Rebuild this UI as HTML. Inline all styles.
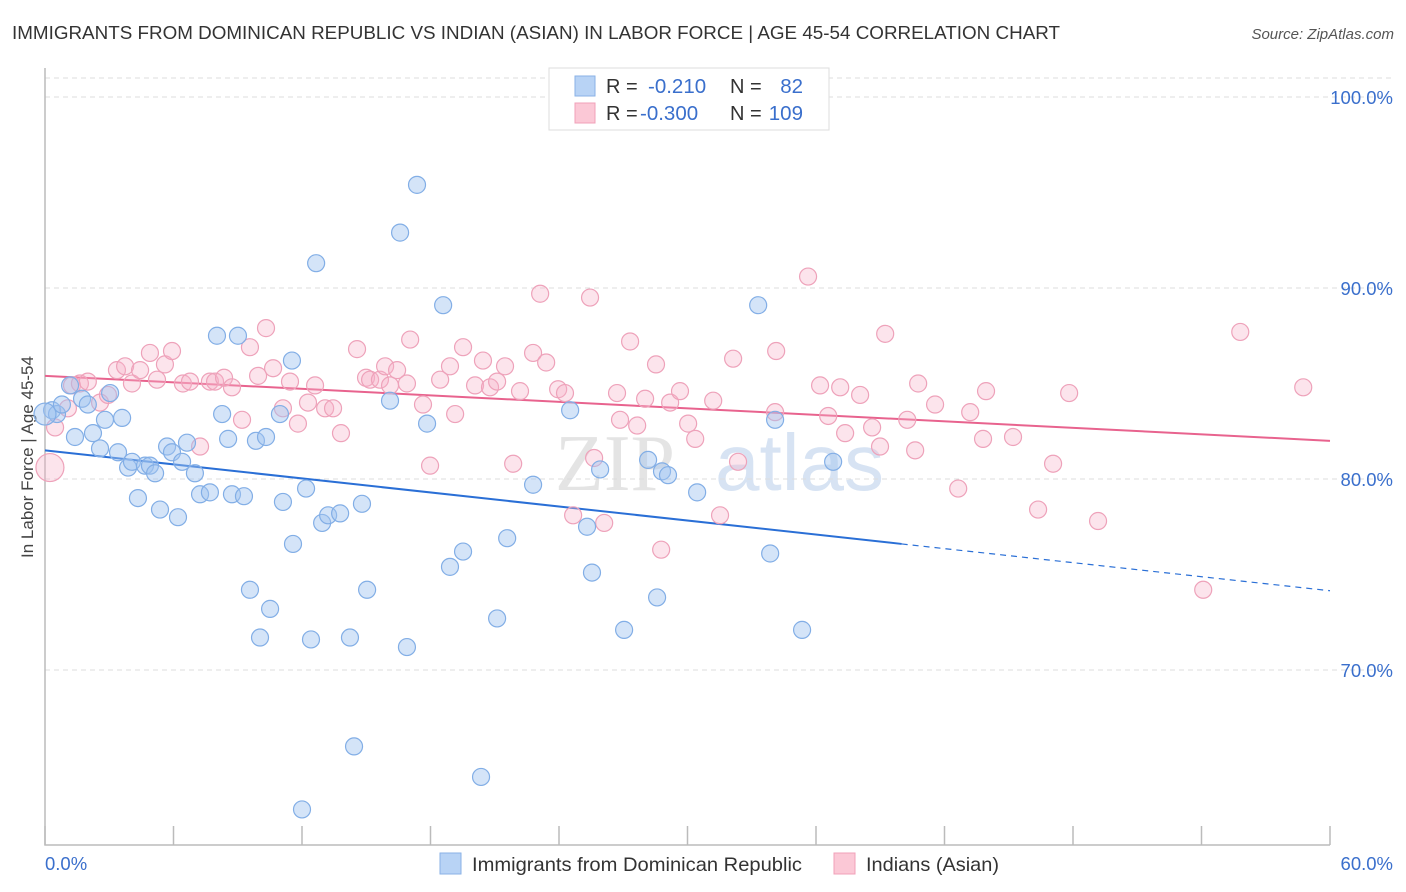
<!DOCTYPE html>
<html><head><meta charset="utf-8"><style>
body{margin:0;background:#fff;font-family:"Liberation Sans",sans-serif;}
</style></head><body>
<svg id="chart" width="1406" height="892" xmlns="http://www.w3.org/2000/svg" style="display:block">
<text x="12" y="39" font-size="18" fill="#333" textLength="1048" lengthAdjust="spacingAndGlyphs">IMMIGRANTS FROM DOMINICAN REPUBLIC VS INDIAN (ASIAN) IN LABOR FORCE | AGE 45-54 CORRELATION CHART</text>
<text x="1394" y="39" font-size="15" fill="#555" text-anchor="end" font-style="italic">Source: ZipAtlas.com</text>
<text transform="translate(33,457) rotate(-90)" font-size="17" fill="#444" text-anchor="middle">In Labor Force | Age 45-54</text>
<g font-size="80" fill="#e4e4e4"><text x="555" y="490" font-family="Liberation Serif,serif">ZIP</text><text x="715" y="490" fill="#d7e3f3">atlas</text></g>
<g id="grid"></g><g id="axes"></g><g id="trends"></g><g id="pts"></g>
<g>
<rect x="549" y="68" width="280" height="62" fill="#fff" stroke="#ddd"/>
<rect x="575" y="76" width="20" height="20" fill="#b8d3f5" stroke="#8ab2e6"/>
<rect x="575" y="103" width="20" height="20" fill="#fbc8d6" stroke="#f0a0b8"/>
<text x="606" y="93" font-size="20" fill="#333">R = </text><text x="648" y="93" font-size="20.5" fill="#3a6fcc">-0.210</text>
<text x="730" y="93" font-size="20" fill="#333">N = </text><text x="803" y="93" font-size="20.5" fill="#3a6fcc" text-anchor="end">82</text>
<text x="606" y="120" font-size="20" fill="#333">R = </text><text x="640" y="120" font-size="20.5" fill="#3a6fcc">-0.300</text>
<text x="730" y="120" font-size="20" fill="#333">N = </text><text x="803" y="120" font-size="20.5" fill="#3a6fcc" text-anchor="end">109</text>
</g>
<g>
<rect x="440" y="853" width="21" height="21" fill="#b8d3f5" stroke="#8ab2e6"/>
<text x="472" y="871" font-size="19.5" fill="#333" textLength="330" lengthAdjust="spacingAndGlyphs">Immigrants from Dominican Republic</text>
<rect x="834" y="853" width="21" height="21" fill="#fbc8d6" stroke="#f0a0b8"/>
<text x="866" y="871" font-size="19.5" fill="#333" textLength="133" lengthAdjust="spacingAndGlyphs">Indians (Asian)</text>
</g>
</svg>
<script>
const blueX=[0.33,0.56,0.79,1.17,1.4,1.73,2.0,2.24,2.57,2.8,3.04,3.41,3.6,3.88,4.06,4.34,4.67,4.9,5.14,5.37,5.7,5.93,6.21,6.4,6.63,7.0,7.24,7.7,8.03,8.27,8.55,8.73,9.01,9.29,9.57,9.85,10.04,10.32,10.51,10.97,11.11,11.53,11.58,12.19,12.42,12.66,12.94,13.22,13.78,14.24,14.43,14.8,15.04,16.11,16.58,16.9,17.37,17.84,18.59,18.91,19.52,20.36,21.11,21.58,22.79,24.52,25.31,25.54,25.92,27.04,28.16,28.58,28.81,29.09,30.45,33.3,33.86,34.09,35.35,36.8,12.0];
const blueY=[83.6,83.4,83.9,84.9,82.2,84.2,83.9,82.4,81.6,83.1,84.5,81.4,83.2,80.6,80.9,79.0,80.7,80.7,80.3,78.4,81.7,81.4,78.0,80.9,81.9,80.3,79.2,79.3,87.5,83.4,82.1,79.2,87.5,79.1,74.2,82.0,71.7,82.2,73.2,83.4,78.8,86.2,76.6,79.5,71.6,91.3,77.7,78.1,78.2,71.7,66.0,78.7,74.2,84.1,92.9,71.2,95.4,82.9,89.1,75.4,76.2,64.4,72.7,76.9,79.7,83.6,77.5,75.1,80.5,72.1,81.0,73.8,80.4,80.2,79.3,89.1,76.1,83.1,72.1,80.9,62.7];
const pinkX=[0.47,1.07,1.26,1.63,2.0,2.57,2.94,3.36,3.74,4.06,4.44,4.9,5.23,5.6,5.93,6.44,6.77,7.24,7.7,7.94,8.36,8.73,9.2,9.57,9.95,10.32,10.65,11.11,11.44,11.81,12.28,12.61,13.08,13.45,13.82,14.57,14.99,15.18,15.64,15.88,16.11,16.44,16.9,17.05,17.65,17.98,18.45,18.91,19.15,19.52,20.08,20.45,20.78,21.11,21.48,21.86,22.18,22.79,23.12,23.4,23.96,24.28,24.66,25.45,25.64,26.11,26.71,26.85,27.32,27.65,28.02,28.53,28.77,29.19,29.65,30.03,30.36,31.2,31.52,32.13,32.36,34.09,34.14,35.63,36.19,36.57,37.13,37.36,38.06,38.62,38.99,39.23,40.26,40.63,40.77,41.56,42.64,43.2,43.8,43.94,45.2,46.37,47.07,47.82,49.17,54.08,55.81,58.75];
const pinkY=[82.7,83.7,84.9,85.0,85.1,84.0,84.4,85.7,85.9,85.0,85.7,86.6,85.2,86.0,86.7,85.0,85.1,81.7,85.1,85.1,85.3,84.8,83.1,86.9,85.4,87.9,85.8,83.7,85.1,82.9,84.0,84.9,83.7,83.7,82.4,86.8,85.3,85.2,85.2,85.9,84.9,85.7,85.0,87.3,83.9,80.7,85.2,85.9,83.4,86.9,84.9,86.2,84.8,85.1,85.9,80.8,84.6,86.6,89.7,86.1,84.7,84.5,78.1,89.5,81.1,77.7,84.5,83.1,87.2,82.8,84.2,86.0,76.3,84.0,84.6,82.9,82.1,84.1,78.1,86.3,80.9,83.5,86.7,90.6,84.9,83.3,84.8,82.4,84.4,82.7,81.7,87.6,83.1,81.5,85.0,83.9,79.5,83.5,82.1,84.6,82.2,78.4,80.8,84.5,77.8,74.2,87.7,84.8];
const bigBlueX=[0],bigBlueY=[83.4],bigPinkX=[0.23],bigPinkY=[80.6];
const trendBlue=[81.5,-0.1225],trendPink=[85.4,-0.0567];
const yTicks=[70,80,90,100],xTicks=[0,6,12,18,24,30,36,42,48,54,60];
const X=v=>45+v*1285/60, Y=v=>97+(100-v)*19.1;
const NS="http://www.w3.org/2000/svg";
function mk(p,t,a){const e=document.createElementNS(NS,t);for(const k in a)e.setAttribute(k,a[k]);p.appendChild(e);return e;}
const grid=document.getElementById('grid'),axes=document.getElementById('axes'),tr=document.getElementById('trends'),pts=document.getElementById('pts');
let tl=mk(grid,'line',{x1:45,x2:1394,y1:78,y2:78,stroke:'#ddd','stroke-dasharray':'5,4'});


yTicks.forEach(v=>{
 const g=mk(grid,'line',{x1:45,x2:1394,y1:Y(v),y2:Y(v),stroke:'#ddd','stroke-dasharray':'5,4'});
 
 
 const t=mk(grid,'text',{x:1393,y:Y(v)+7,'font-size':18.5,fill:'#3a6fcc','text-anchor':'end'});t.textContent=v.toFixed(1)+'%';
 
 
});
let ax=mk(axes,'path',{d:'M45,68V845H1330',fill:'none',stroke:'#bbb','stroke-width':1.5});


xTicks.forEach(v=>{
 const l=mk(axes,'line',{x1:X(v),x2:X(v),y1:826,y2:845,stroke:'#bbb','stroke-width':1.5});
 
 
});
let t0=mk(axes,'text',{x:45,y:870,'font-size':18.5,fill:'#3a6fcc'});t0.textContent='0.0%';


let t1=mk(axes,'text',{x:1393,y:870,'font-size':18.5,fill:'#3a6fcc','text-anchor':'end'});t1.textContent='60.0%';


function dot(x,y,r,c,name){const e=mk(pts,'circle',{cx:X(x),cy:Y(y),r:r,fill:c[0],stroke:c[1],'stroke-width':1.2});
 
 }
const BC=['rgba(160,196,240,0.45)','#82aee6'],PC=['rgba(247,178,200,0.35)','#eea2ba'];
pinkX.forEach((x,i)=>dot(x,pinkY[i],8.5,PC,'point-indian'));
blueX.forEach((x,i)=>dot(x,blueY[i],8.5,BC,'point-dominican'));
bigPinkX.forEach((x,i)=>dot(x,bigPinkY[i],14,PC,'point-indian-large'));
bigBlueX.forEach((x,i)=>dot(x,bigBlueY[i],11,BC,'point-dominican-large'));
const by=x=>trendBlue[0]+trendBlue[1]*x, py=x=>trendPink[0]+trendPink[1]*x;
let b1=mk(tr,'line',{x1:X(0),y1:Y(by(0)),x2:X(40),y2:Y(by(40)),stroke:'#2a6fd6','stroke-width':2});


let b2=mk(tr,'line',{x1:X(40),y1:Y(by(40)),x2:X(60),y2:Y(by(60)),stroke:'#2a6fd6','stroke-width':1.2,'stroke-dasharray':'6,5'});


let p1=mk(tr,'line',{x1:X(0),y1:Y(py(0)),x2:X(60),y2:Y(py(60)),stroke:'#e8638e','stroke-width':2});


</script>
</body></html>
